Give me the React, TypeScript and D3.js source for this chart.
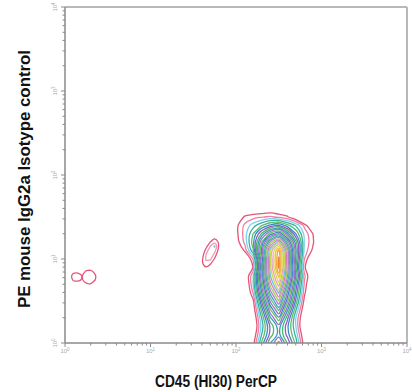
import React from "react";
import * as d3 from "d3";

const W = 412;
const H = 392;

const decades = [0, 1, 2, 3, 4];
const xTitle = "CD45 (HI30) PerCP";
const yTitle = "PE mouse IgG2a Isotype control";

// contour levels and colours
const mainLevels = [
  1, 1.5, 2, 2.5, 3, 3.5, 4, 4.5, 5, 5.5, 6, 6.5, 7, 7.5, 8, 8.5, 9, 9.5, 10, 10.5, 11, 11.5, 12, 12.5, 13,
];
const mainColors = [
  "#e4557a", "#f07fa0", "#7fd0ee", "#38b0a8", "#5cbf6a", "#3f86c9", "#8a5fc4",
  "#4fb56f", "#2f9fb0", "#9b6fd0", "#6fc25a", "#3f7fd0", "#a070c8", "#5fbf80",
  "#45a8c0", "#b080d0", "#9fd060", "#d880b8", "#70c0e0", "#c8d850", "#e8a0c8",
  "#d9e04a", "#f4c040", "#f2a23a", "#f08030",
];
const islandLevels = [1, 1.7, 2.35];
const islandColors = ["#e4557a", "#f29ab4", "#6cc8ea"];

// density grids on log10 axes, rows from bottom to top
// main population: x 1.9..3.2, y -0.2..1.8, step 0.1
const mainOrigin = [1.9, -0.2];
const mainStep = 0.1;
const mainDensity = [
  [-2, -2, -0.6, 0.85, 3.6, 6.1, 7.5, 5.4, 3.3, 0.8, -0.7, -2, -2, -2],
  [-2, -2, -0.6, 0.85, 3.5, 5.7, 7.1, 5.1, 3.2, 0.8, -0.7, -2, -2, -2],
  [-2, -2, -0.7, 0.7, 3.1, 5.0, 6.2, 4.5, 2.8, 0.6, -0.8, -2, -2, -2],
  [-2, -2, -1, 0.35, 2.5, 4.2, 5.2, 3.8, 2.35, 0.3, -1.2, -2, -2, -2],
  [-2, -2, -1.3, 0.0, 2.2, 4.1, 5.3, 3.65, 2.0, -0.1, -1.3, -2, -2, -2],
  [-2, -2, -1.2, 0.2, 2.5, 4.9, 6.4, 4.2, 2.0, 0.1, -1.2, -2, -2, -2],
  [-2, -2, -0.9, 0.5, 3.2, 6.0, 7.7, 5.2, 2.6, 0.4, -1, -2, -2, -2],
  [-2, -2, -0.6, 0.85, 4.1, 7.1, 9.0, 6.2, 3.35, 0.8, -0.7, -2, -2, -2],
  [-2, -1.7, -0.2, 1.55, 5.0, 8.2, 10.1, 7.0, 3.9, 1.15, -0.3, -1.7, -2, -2],
  [-2, -1.5, -0.1, 2.0, 5.6, 9.2, 11.3, 7.9, 4.4, 1.4, -0.2, -1.5, -2, -2],
  [-2, -1.3, 0.1, 2.0, 6.0, 9.9, 12.2, 8.6, 5.0, 1.65, 0, -1.4, -2, -2],
  [-2, -2, -0.4, 1.05, 5.6, 10.3, 13.1, 8.9, 4.6, 1.15, -0.3, -1.5, -2, -2],
  [-2, -2, -0.2, 1.55, 6.0, 10.4, 13.1, 9.1, 4.9, 1.5, 0, -1, -2, -2],
  [-2, -0.3, 1.1, 2.9, 6.7, 10.5, 12.7, 8.9, 5.1, 1.85, 0.85, -0.6, -1, -2],
  [-2, 0.65, 1.6, 3.3, 6.0, 8.7, 10.3, 7.5, 4.7, 1.95, 1.1, -0.25, -1, -2],
  [-2, 0.8, 1.7, 3.0, 4.6, 6.2, 7.1, 5.3, 3.5, 1.85, 1.0, -0.4, -1, -2],
  [-2, 0.8, 1.6, 2.25, 2.95, 3.65, 4.0, 3.2, 2.4, 1.35, 0, -1, -2, -2],
  [-2, 0.15, 1.1, 1.3, 1.45, 1.6, 1.35, 1.1, 0.35, -1, -2, -2, -2, -2],
  [-2, -0.5, 0.1, 0.3, 0.35, 0.35, 0.3, 0.1, -0.5, -1, -2, -2, -2, -2],
  [-2, -2, -2, -2, -2, -2, -2, -2, -2, -2, -2, -2, -2, -2],
  [-2, -2, -2, -2, -2, -2, -2, -2, -2, -2, -2, -2, -2, -2],
];

// small tilted island left of the main population: x 1.55..1.9, y 0.75..1.35, step 0.05
const midOrigin = [1.55, 0.75];
const midStep = 0.05;
const midDensity = [
  [-1, -1, -1, -1, -1, -1, -1, -1],
  [-0.44, -0.13, -0.28, -1, -1, -1, -1, -1],
  [-0.22, 0.33, 0.35, -0.17, -1, -1, -1, -1],
  [-0.1, 0.68, 0.94, 0.5, -0.35, -1, -1, -1],
  [-0.15, 0.85, 1.47, 1.18, 0.3, -0.8, -1, -1],
  [-0.35, 0.8, 1.79, 1.85, 0.91, -0.24, -1, -1],
  [-0.67, 0.53, 1.72, 2.3, 1.45, 0.26, -0.9, -1],
  [-1, 0.12, 1.31, 2.2, 1.95, 0.66, -0.53, -1],
  [-1, -0.39, 0.75, 1.72, 2.45, 0.89, -0.24, -1],
  [-1, -1, 0.13, 1.04, 1.5, 0.89, -0.07, -1],
  [-1, -1, -0.5, 0.37, 0.85, 0.68, -0.05, -1],
  [-1, -1, -1, -0.3, 0.24, 0.28, -0.19, -1],
  [-1, -1, -1, -1, -0.4, -0.2, -1, -1],
];

// double blob near the y axis: x -0.05..0.45, y 0.6..1.0, step 0.05
const lowOrigin = [-0.05, 0.6];
const lowStep = 0.05;
const lowDensity = [
  [-1, -1, -1, -1, -1, -1, -1, -1, -1, -1, -1],
  [-1, -1, -0.5, -0.5, -0.4, -0.2, 0.28, 0.31, 0, -0.5, -1],
  [-1, -0.9, -0.2, 0.31, 0.36, 0.53, 0.87, 0.91, 0.63, 0.16, -0.3],
  [-1, -0.5, 0.38, 1.15, 1.22, 0.9, 1.42, 1.49, 1.03, 0.44, -0.2],
  [-1, -0.45, 0.49, 1.4, 1.51, 0.95, 1.58, 1.69, 1.12, 0.49, -0.1],
  [-1, -0.7, 0.09, 0.69, 0.73, 0.71, 1.12, 1.17, 0.82, 0.3, -0.3],
  [-1, -1, -0.6, -0.2, -0.1, 0.2, 0.54, 0.57, 0.3, -0.2, -0.6],
  [-1, -1, -1, -0.8, -0.7, -0.4, -0.1, -0.1, -0.3, -0.7, -1],
  [-1, -1, -1, -1, -1, -1, -1, -1, -1, -1, -1],
];

const App = () => {
  const x = d3.scaleLog().domain([1, 1e4]).range([65, 407]);
  const y = d3.scaleLog().domain([1, 1e4]).range([343, 7]);
  const line = d3.line().curve(d3.curveCatmullRomClosed.alpha(0.5));

  const populations = [
    { grid: mainDensity, origin: mainOrigin, step: mainStep, levels: mainLevels, colors: mainColors },
    { grid: midDensity, origin: midOrigin, step: midStep, levels: islandLevels, colors: islandColors },
    { grid: lowDensity, origin: lowOrigin, step: lowStep, levels: islandLevels, colors: islandColors },
  ];

  const rings: { d: string; color: string }[] = [];
  populations.forEach((p) => {
    const n = p.grid[0].length;
    const m = p.grid.length;
    const contours = d3.contours().size([n, m]).thresholds(p.levels)(p.grid.flat());
    contours.forEach((c, i) => {
      c.coordinates.forEach((poly) =>
        poly.forEach((ring) => {
          const pts = ring.slice(0, -1).map(([gx, gy]) => [
            x(Math.pow(10, p.origin[0] + (gx - 0.5) * p.step)),
            y(Math.pow(10, p.origin[1] + (gy - 0.5) * p.step)),
          ]);
          rings.push({ d: line(pts as [number, number][]) || "", color: p.colors[i] });
        })
      );
    });
  });

  const minorTicks = x.ticks();
  const axisFont = "Liberation Sans, Arial, sans-serif";

  return (
    <svg
      width={W}
      height={H}
      style={{ position: "absolute", left: 0, top: 0, background: "#fff" }}
      fontFamily={axisFont}
    >
      <defs>
        <clipPath id="plot-clip">
          <rect x={65} y={7} width={342} height={336} />
        </clipPath>
      </defs>

      {/* frame */}
      <line x1={65} y1={7} x2={407} y2={7} stroke="#b8b8b8" strokeWidth={2} />
      <line x1={407} y1={7} x2={407} y2={343} stroke="#b8b8b8" strokeWidth={2} />

      {/* contours */}
      <g clipPath="url(#plot-clip)" fill="none" strokeWidth={1.3} strokeLinejoin="round">
        {rings.map((r, i) => (
          <path key={i} d={r.d} stroke={r.color} />
        ))}
      </g>

      {/* axes */}
      <line x1={65} y1={7} x2={65} y2={343} stroke="#8a8a8a" strokeWidth={1.5} />
      <line x1={65} y1={343} x2={407} y2={343} stroke="#8a8a8a" strokeWidth={1.5} />
      {minorTicks.map((t, i) => {
        const major = decades.includes(Math.log10(t));
        const len = major ? 4 : 2.5;
        return (
          <g key={i} stroke="#8a8a8a" strokeWidth={1}>
            <line x1={x(t)} y1={343} x2={x(t)} y2={343 + len} />
            <line x1={65 - len} y1={y(t)} x2={65} y2={y(t)} />
          </g>
        );
      })}
      {decades.map((d) => (
        <text key={"x" + d} x={x(Math.pow(10, d))} y={353} fontSize={6} fill="#aaa" textAnchor="middle">
          10<tspan dy={-2} fontSize={4.5}>{d}</tspan>
        </text>
      ))}
      {decades.map((d) => (
        <text
          key={"y" + d}
          transform={`translate(57,${y(Math.pow(10, d))}) rotate(-90)`}
          fontSize={6}
          fill="#aaa"
          textAnchor="middle"
        >
          10<tspan dy={-2} fontSize={4.5}>{d}</tspan>
        </text>
      ))}

      {/* titles */}
      <text
        x={216}
        y={387}
        fontSize={16}
        fontWeight="bold"
        textAnchor="middle"
        textLength={122}
        lengthAdjust="spacingAndGlyphs"
        fill="#111"
      >
        {xTitle}
      </text>
      <text
        transform="translate(30,179) rotate(-90)"
        fontSize={16}
        fontWeight="bold"
        textAnchor="middle"
        textLength={258}
        lengthAdjust="spacingAndGlyphs"
        fill="#111"
      >
        {yTitle}
      </text>
    </svg>
  );
};

export default App;
